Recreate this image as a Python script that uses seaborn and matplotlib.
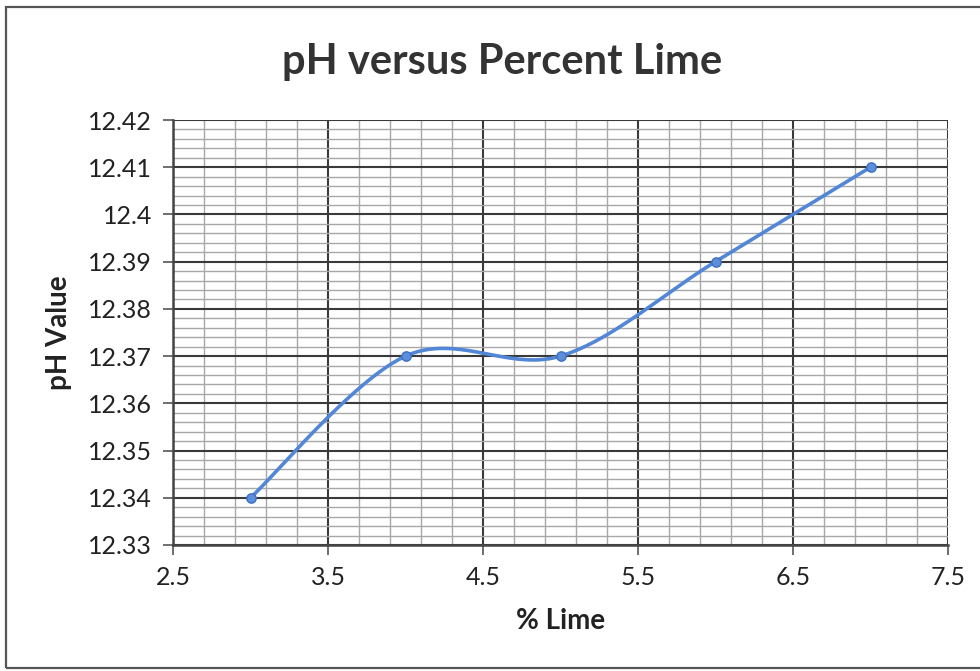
import numpy as np
import matplotlib
matplotlib.use("Agg")
import matplotlib.pyplot as plt
import seaborn as sns
import pandas as pd
from matplotlib.ticker import MultipleLocator, FixedLocator, FormatStrFormatter
from matplotlib.patches import Rectangle

# Measured pH at each lime content
lime_pct = [3, 4, 5, 6, 7]
ph_value = [12.34, 12.37, 12.37, 12.39, 12.41]

title = "pH versus Percent Lime"
x_label = "% Lime"
y_label = "pH Value"
x_ticks = [2.5, 3.5, 4.5, 5.5, 6.5, 7.5]
y_ticks = [12.33, 12.34, 12.35, 12.36, 12.37, 12.38, 12.39, 12.40, 12.41, 12.42]

sns.set_theme(style="white")
plt.rcParams["font.family"] = ["Lato", "DejaVu Sans"]

df = pd.DataFrame({"lime": lime_pct, "ph": ph_value})


def smooth_curve(xs, ys, n=60):
    """Spreadsheet-style smoothed line: cubic Bezier through every point."""
    p = np.column_stack([xs, ys]).astype(float)
    out = []
    for i in range(len(p) - 1):
        p0 = p[i - 1] if i > 0 else p[i]
        p1, p2 = p[i], p[i + 1]
        p3 = p[i + 2] if i + 2 < len(p) else p[i + 1]
        c1 = p1 + (p2 - p0) / 6.0
        c2 = p2 - (p3 - p1) / 6.0
        t = np.linspace(0, 1, n)[:, None]
        seg = ((1 - t) ** 3) * p1 + 3 * ((1 - t) ** 2) * t * c1 + 3 * (1 - t) * t ** 2 * c2 + t ** 3 * p2
        out.append(seg if i == 0 else seg[1:])
    return np.vstack(out)


fig = plt.figure(figsize=(9.8, 6.71), dpi=100)
fig.patch.set_facecolor("white")

# chart frame
fig.patches.append(Rectangle((6 / 980, 3 / 671), 1.2, 661 / 671, transform=fig.transFigure,
                             fill=False, edgecolor="#555555", linewidth=1.6, zorder=0))

ax = fig.add_axes([173 / 980, 126 / 671, 775 / 980, 425 / 671])

ax.set_xlim(2.5, 7.5)
ax.set_ylim(12.33, 12.42)
ax.set_xticks(x_ticks)
ax.set_yticks(y_ticks)
ax.xaxis.set_major_formatter(FormatStrFormatter("%g"))
ax.set_yticklabels([f"{v:g}" for v in y_ticks])
# minor verticals every 0.2 counted from the left edge of the axis
ax.xaxis.set_minor_locator(FixedLocator(np.arange(2.5, 7.5001, 0.2)))
ax.yaxis.set_minor_locator(MultipleLocator(0.002))

ax.grid(which="minor", color="#a8a8a8", linewidth=1.0)
ax.grid(which="major", color="#3a3a3a", linewidth=1.5)
ax.set_axisbelow(True)

for side in ["top", "right"]:
    ax.spines[side].set_visible(False)
for side in ["left", "bottom"]:
    ax.spines[side].set_color("#444444")
    ax.spines[side].set_linewidth(1.8)

ax.tick_params(which="major", direction="out", length=7, width=1.2, color="#555555",
               labelsize=18, labelcolor="#222222", pad=8, left=True, bottom=True)
ax.tick_params(which="minor", length=0)

curve = smooth_curve(lime_pct, ph_value)
ax.plot(curve[:, 0], curve[:, 1], color="#5286d6", linewidth=2.6, solid_capstyle="round", zorder=3)
sns.scatterplot(data=df, x="lime", y="ph", ax=ax, s=45, color="#5b8fdc",
                edgecolor="#3f6fbf", linewidth=1.0, zorder=4, legend=False)

ax.set_xlabel(x_label, fontsize=20, fontweight="bold", color="#222222", labelpad=14)
ax.set_ylabel(y_label, fontsize=20, fontweight="bold", color="#222222", labelpad=12)
fig.text(0.512, 0.908, title, ha="center", va="center", fontsize=30, fontweight="bold", color="#333333")

fig.savefig("out.png", dpi=100, facecolor="white")
